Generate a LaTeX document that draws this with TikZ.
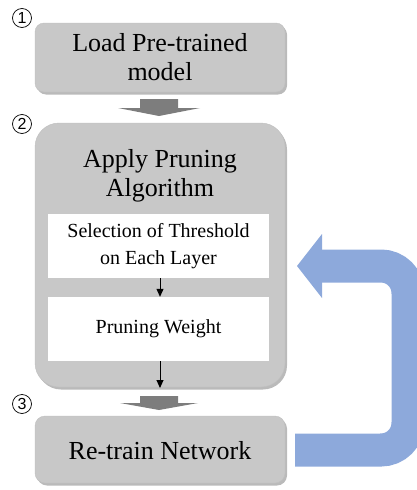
\documentclass[tikz,border=0pt]{standalone}
\usepackage{fontspec}
\setmainfont{Liberation Serif}
\newfontfamily\numfont{Liberation Sans}
\usetikzlibrary{shadows,arrows.meta}
\definecolor{boxgray}{RGB}{200,200,200}
\definecolor{arrgray}{RGB}{125,125,125}
\definecolor{loopblue}{RGB}{141,169,219}
\tikzset{
  graybox/.style={fill=boxgray, draw=black!25, line width=0.4pt, minimum width=250pt,
    drop shadow={shadow xshift=2pt, shadow yshift=-2.5pt, opacity=0.45, fill=black!60}},
  whitebox/.style={fill=white, draw=none, minimum width=221pt, minimum height=64pt,
    align=center, font=\fontsize{20}{27}\selectfont, inner sep=0pt},
  bigtext/.style={align=center, font=\fontsize{26}{29}\selectfont, inner sep=0pt},
  numlabel/.style={circle, draw=black, line width=0.7pt, minimum size=19pt, inner sep=0pt,
    font=\numfont\fontsize{16}{16}\selectfont},
  smallarrow/.style={-{Triangle[length=8pt,width=7pt]}, line width=1pt},
  blockarrow/.style={fill=arrgray, draw=none}
}
\begin{document}
\begin{tikzpicture}[x=1pt,y=-1pt]
\useasboundingbox (0,0) rectangle (416,490);
% boxes
\node[graybox, rounded corners=9pt, minimum height=69pt] (b1) at (160,57.5) {};
\node[bigtext] (t1) at (160,57.5) {Load Pre-trained\\model};
\node[graybox, rounded corners=24pt, minimum height=264pt] (b2) at (160,255) {};
\node[bigtext] (t2) at (160,176) {Apply Pruning\\Algorithm};
\node[whitebox] (w1) at (158.5,246) {Selection of Threshold\\on Each Layer};
\node[whitebox] (w2) at (158.5,329) {Pruning Weight};
\node[graybox, rounded corners=10pt, minimum height=67pt] (b3) at (160,449.5) {};
\node[bigtext] (t3) at (160,451) {Re-train Network};
% circled numbers
\node[numlabel] (n1) at (22,18) {1};
\node[numlabel] (n2) at (22,124) {2};
\node[numlabel] (n3) at (22,404) {3};
% small arrows
\draw[smallarrow] (w1.south -| 160,0) -- (w2.north -| 160,0);
\coordinate (a2end) at (160,388);
\draw[smallarrow] (w2.south -| 160,0) -- (a2end);
% gray block arrows
\fill[blockarrow] (140,99) -- (178,99) -- (178,108) -- (200,108) -- (159,116) -- (118,108) -- (140,108) -- cycle;
\fill[blockarrow] (140,396) -- (178,396) -- (178,403) -- (198,403) -- (159,410) -- (120,403) -- (140,403) -- cycle;
% blue loop arrow
\coordinate (ls) at (295,450);
\coordinate (le) at (321,266);
\draw[loopblue, line width=33pt, rounded corners=27pt] (ls) -- (408,450) -- (408,266) -- (le);
\fill[loopblue] (322,234) -- (297,266) -- (322,298) -- cycle;
\end{tikzpicture}
\end{document}
